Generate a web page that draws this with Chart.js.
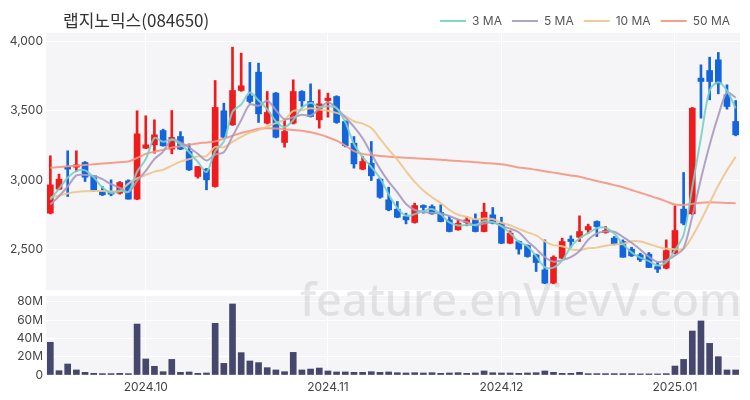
<!DOCTYPE html>
<html>
<head>
<meta charset="utf-8">
<script src="https://cdn.jsdelivr.net/npm/chart.js@4.4.1/dist/chart.umd.min.js"></script>
<style>
  html, body { margin: 0; padding: 0; background: #fff; }
  #wrap { position: relative; width: 750px; height: 400px; overflow: hidden; }
  #priceBox { position: absolute; left: 0; top: 0; width: 750px; height: 292px; }
  #volBox { position: absolute; left: 0; top: 292px; width: 750px; height: 108px; }
  #mark { position: absolute; left: 300px; top: 268px; font: 500 45px "Noto Sans", sans-serif;
          color: rgba(190,190,195,0.38); pointer-events: none; white-space: nowrap; }
</style>
</head>
<body>
<div id="wrap">
  <div id="priceBox"><canvas id="priceChart"></canvas></div>
  <div id="volBox"><canvas id="volChart"></canvas></div>
  <div id="mark">feature.enVievV.com</div>
</div>
<script>
// trading days shown on the chart
const dates = [
  '2024.09.11','2024.09.12','2024.09.13','2024.09.19','2024.09.20','2024.09.23','2024.09.24','2024.09.25','2024.09.26','2024.09.27','2024.09.30',
  '2024.10.01','2024.10.02','2024.10.04','2024.10.07','2024.10.08','2024.10.10','2024.10.11','2024.10.14','2024.10.15','2024.10.16','2024.10.17',
  '2024.10.18','2024.10.21','2024.10.22','2024.10.23','2024.10.24','2024.10.25','2024.10.28','2024.10.29','2024.10.30','2024.10.31',
  '2024.11.01','2024.11.04','2024.11.05','2024.11.06','2024.11.07','2024.11.08','2024.11.11','2024.11.12','2024.11.13','2024.11.14',
  '2024.11.15','2024.11.18','2024.11.19','2024.11.20','2024.11.21','2024.11.22','2024.11.25','2024.11.26','2024.11.27','2024.11.28',
  '2024.12.02','2024.12.03','2024.12.04','2024.12.05','2024.12.06','2024.12.09','2024.12.10','2024.12.11','2024.12.12','2024.12.13',
  '2024.12.16','2024.12.17','2024.12.18','2024.12.19','2024.12.20','2024.12.23','2024.12.24','2024.12.26','2024.12.27','2024.12.30',
  '2025.01.02','2025.01.03','2025.01.06','2025.01.07','2025.01.08','2025.01.09','2025.01.10','2025.01.13'
];

const opens = [
  2763,2936,3092,3094,3128,3032,2919,2919,2907,2996,2864,
  3231,3255,3358,3224,3315,3207,3027,3080,2955,3500,3399,
  3646,3608,3778,3411,3627,3272,3411,3639,3567,
  3435,3574,3603,3423,3267,3080,3123,3008,2859,2792,2739,
  2696,2818,2811,2768,2715,2643,2696,2715,2631,2751,
  2691,2547,2559,2530,2463,2355,2259,2439,2576,2590,
  2643,2703,2624,2583,2559,2504,2463,2468,2379,2367,
  2475,2792,2758,3735,3790,3867,3615,3423
];
const highs = [
  3176,3044,3212,3212,3135,3035,2955,3003,2991,3003,3500,
  3464,3435,3368,3502,3350,3262,3099,3085,3718,3555,3958,
  3915,3848,3843,3639,3632,3435,3723,3645,3694,
  3651,3627,3608,3430,3315,3171,3279,3015,2950,2847,2763,
  2835,2823,2823,2823,2739,2715,2739,2758,2835,2804,
  2734,2636,2563,2535,2468,2571,2456,2583,2600,2744,
  2684,2708,2667,2595,2571,2518,2475,2480,2408,2571,
  2816,3056,3524,3831,3886,3920,3687,3574
];
const lows = [
  2758,2931,2883,3063,2991,2919,2890,2888,2900,2864,2860,
  3228,3195,3245,3190,3220,3070,3015,2931,2950,3305,3395,
  3640,3555,3416,3405,3305,3238,3405,3531,3455,
  3375,3454,3410,3240,3087,3075,2998,2870,2780,2730,2686,
  2691,2763,2755,2700,2628,2640,2672,2628,2628,2686,
  2543,2543,2468,2446,2343,2255,2255,2435,2518,2559,
  2619,2595,2619,2535,2446,2451,2415,2372,2336,2362,
  2470,2679,2754,3447,3579,3622,3512,3320
];
const closes = [
  2967,3008,3080,3111,3022,2931,2895,2900,2984,2864,3334,
  3255,3327,3248,3308,3224,3075,3099,3003,3524,3310,3646,
  3680,3567,3478,3488,3310,3351,3639,3572,3459,
  3550,3591,3416,3248,3118,3135,3032,2878,2787,2734,2715,
  2818,2804,2758,2703,2631,2691,2715,2631,2770,2691,
  2547,2619,2504,2451,2408,2259,2446,2559,2559,2631,
  2667,2667,2638,2542,2446,2456,2427,2372,2360,2494,
  2638,2691,3519,3711,3711,3694,3531,3327
];
// volume in millions of shares
const volumes = [
  35.7,4.7,12,5.5,2.9,1.8,1.5,1.5,1.8,1.5,55.6,
  17.5,9.5,3.6,17,2.9,3.3,1.8,2.2,56.4,12.7,77.5,
  24.4,15.3,13.5,8,5.5,3.6,24.7,5.5,6.5,
  7.6,4.4,3.3,3.3,2.9,2.9,3.6,2.9,3.3,2.5,2.2,
  2.5,2.2,2.5,1.8,2.2,2.5,1.8,2.2,4.4,2.5,
  2.2,2.2,1.8,2.2,2.5,4.4,2.9,1.8,1.8,2.9,
  1.5,1.5,1.5,1.5,1.5,1.5,1.2,1.2,1.2,1.5,
  9.8,17,48,59,34.5,20,5.5,5.5
];

// moving-average values before the window fills (earlier days are off the chart)
const ma3Head = [2860, 2940];
const ma5Head = [2825, 2885, 2955, 3035];
const ma10Head = [2875, 2890, 2905, 2915, 2920, 2922, 2922, 2920, 2920];
// 50-day average
const ma50 = [
  3090,3095,3100,3105,3110,3115,3120,3125,3130,3135,3160,
  3190,3205,3220,3235,3245,3255,3265,3272,3280,3300,3320,
  3340,3355,3370,3375,3372,3368,3362,3356,3345,
  3330,3310,3285,3250,3210,3190,3182,3175,3170,3166,3162,
  3158,3155,3152,3148,3142,3138,3135,3130,3125,3120,
  3115,3105,3092,3085,3075,3065,3055,3045,3035,3025,
  3010,2995,2980,2965,2950,2930,2910,2890,2870,2848,
  2825,2822,2830,2838,2842,2840,2837,2835
];

const priceTicks = [2500, 3000, 3500, 4000];
const volTicks = [0, 20, 40, 60, 80];

const UP = '#ee1c1c';
const DOWN = '#1464dc';

function movingAverage(values, n, head) {
  return values.map((v, i) => {
    if (i < n - 1) return head[i];
    let s = 0;
    for (let k = i - n + 1; k <= i; k++) s += values[k];
    return Math.round(s / n);
  });
}

const candleColors = closes.map((c, i) => (c >= opens[i] ? UP : DOWN));
const monthStarts = dates.map((d, i) => i).filter(i => i > 0 && dates[i].slice(0, 7) !== dates[i - 1].slice(0, 7));

const plotBg = {
  id: 'plotBg',
  beforeDraw(chart) {
    const { ctx, chartArea: a } = chart;
    ctx.save();
    ctx.fillStyle = '#f5f5f7';
    ctx.fillRect(a.left, a.top, a.right - a.left, a.bottom - a.top);
    ctx.restore();
  }
};

const titleText = {
  id: 'titleText',
  afterDraw(chart) {
    const ctx = chart.ctx;
    ctx.save();
    ctx.font = '17px "Noto Sans CJK KR", "Noto Sans", sans-serif';
    ctx.fillStyle = '#333';
    ctx.textBaseline = 'middle';
    ctx.fillText('랩지노믹스(084650)', 63, 21);
    ctx.restore();
  }
};

// keep the y axes from pushing the plot area in for half a label
const fixY = s => { s.width = 46; s.paddingTop = 0; s.paddingBottom = 0; };

const xAxisBase = {
  type: 'category',
  offset: true,
  afterBuildTicks: s => { s.ticks = s.ticks.filter(t => monthStarts.includes(t.value)); },
  grid: { color: '#ffffff', lineWidth: 1, offset: false, drawTicks: false },
  border: { display: false }
};

const lineDs = (label, data, color) => ({
  type: 'line', label, data,
  borderColor: color, backgroundColor: color,
  borderWidth: 2, pointRadius: 0, tension: 0.3, order: 0
});

new Chart(document.getElementById('priceChart').getContext('2d'), {
  type: 'bar',
  data: {
    labels: dates,
    datasets: [
      lineDs('3 MA', movingAverage(closes, 3, ma3Head), 'rgba(120,208,196,0.9)'),
      lineDs('5 MA', movingAverage(closes, 5, ma5Head), 'rgba(170,152,190,0.9)'),
      lineDs('10 MA', movingAverage(closes, 10, ma10Head), 'rgba(240,196,140,0.9)'),
      lineDs('50 MA', ma50, 'rgba(244,150,130,0.9)'),
      {
        label: 'wick', data: lows.map((l, i) => [l, highs[i]]),
        backgroundColor: candleColors, barThickness: 2, grouped: false, order: 2
      },
      {
        label: 'body', data: opens.map((o, i) => [o, closes[i]]),
        backgroundColor: candleColors, barThickness: 6, minBarLength: 2, grouped: false, order: 1
      }
    ]
  },
  options: {
    responsive: true,
    maintainAspectRatio: false,
    animation: false,
    layout: { padding: { top: 5, right: 10, bottom: 2, left: 0 } },
    plugins: {
      title: { display: false },
      tooltip: { enabled: false },
      legend: {
        position: 'top',
        align: 'end',
        maxHeight: 28,
        labels: {
          filter: item => item.text.includes('MA'),
          usePointStyle: true,
          pointStyle: 'line',
          pointStyleWidth: 26,
          boxHeight: 2,
          padding: 10,
          color: '#555',
          font: { size: 12, family: 'Inter, "Noto Sans", sans-serif' }
        }
      }
    },
    scales: {
      x: {
        ...xAxisBase,
        ticks: { display: false, autoSkip: false },
        afterFit: s => { s.height = 0; }
      },
      y: {
        min: 2210,
        max: 4060,
        afterBuildTicks: s => { s.ticks = priceTicks.map(v => ({ value: v })); },
        afterFit: fixY,
        grid: { color: '#ffffff', lineWidth: 1, drawTicks: false },
        border: { display: false },
        ticks: {
          padding: 3,
          color: '#444',
          font: { size: 12, family: 'Inter, "Noto Sans", sans-serif' },
          callback: v => v.toLocaleString('en-US')
        }
      }
    }
  },
  plugins: [plotBg, titleText]
});

new Chart(document.getElementById('volChart').getContext('2d'), {
  type: 'bar',
  data: {
    labels: dates,
    datasets: [{
      label: 'Volume', data: volumes,
      backgroundColor: '#46476c', barThickness: 6
    }]
  },
  options: {
    responsive: true,
    maintainAspectRatio: false,
    animation: false,
    layout: { padding: { top: 4, right: 10, bottom: 0, left: 0 } },
    plugins: { legend: { display: false }, tooltip: { enabled: false } },
    scales: {
      x: {
        ...xAxisBase,
        afterFit: s => { s.height = 25; },
        ticks: {
          autoSkip: false, maxRotation: 0, padding: 5,
          color: '#444',
          font: { size: 12, family: 'Inter, "Noto Sans", sans-serif' },
          callback: function (v) { return dates[v].slice(0, 7); }
        }
      },
      y: {
        min: 0,
        max: 86.2,
        afterBuildTicks: s => { s.ticks = volTicks.map(v => ({ value: v })); },
        afterFit: fixY,
        grid: { color: '#ffffff', lineWidth: 1, drawTicks: false },
        border: { display: false },
        ticks: {
          padding: 3,
          color: '#444',
          font: { size: 12, family: 'Inter, "Noto Sans", sans-serif' },
          callback: v => (v === 0 ? '0' : v + 'M')
        }
      }
    }
  },
  plugins: [plotBg]
});
</script>
</body>
</html>
